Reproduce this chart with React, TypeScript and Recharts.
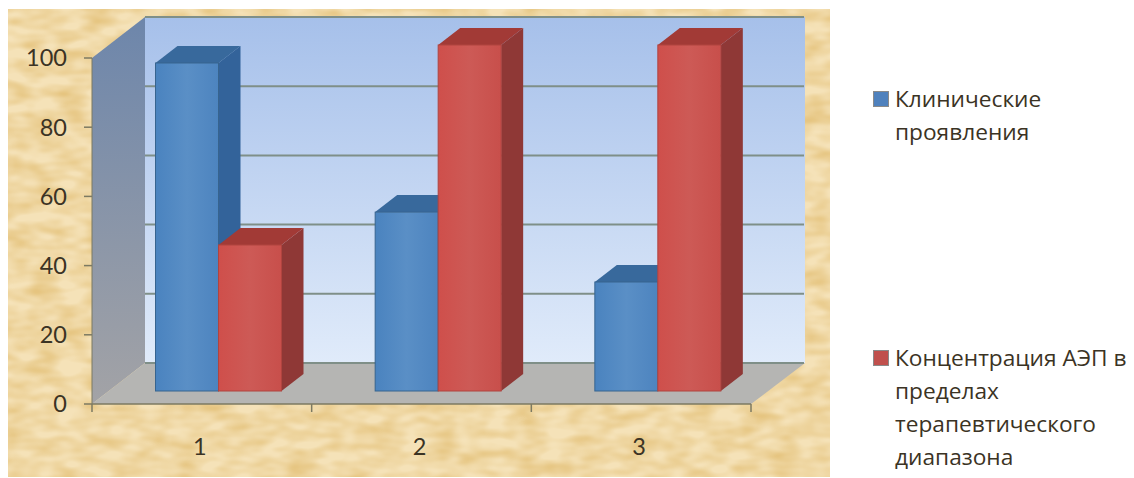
import { Bar, BarChart, CartesianGrid, Legend, XAxis, YAxis } from "recharts";

const categories = ["1", "2", "3"];
const clinical = [94.8, 51.7, 31.5];
const concentration = [42.2, 100, 100];
const yTicks = [0, 20, 40, 60, 80, 100];
const seriesNames = [
  "Клинические проявления",
  "Концентрация АЭП в пределах терапевтического диапазона",
];

const chartData = categories.map((name, i) => ({
  name,
  clinical: clinical[i],
  concentration: concentration[i],
}));

const FONT = "Lato, 'Open Sans', sans-serif";
const TEXT = "#3b3324";
const AXIS = "#7c7a62";
const BAND = 219.67;

const blue = { front: "url(#blueFront)", side: "#33639a", top: "#38699c", edge: "#37648f" };
const red = { front: "url(#redFront)", side: "#8f3836", top: "#a23a36", edge: "#b0443f" };

// bars stand a bit inside the floor, the depth is faked with two polygons
function box(colors: typeof blue) {
  return (props: any) => {
    const x = props.x + 16.5;
    const y = props.y - 13;
    const w = props.width;
    const h = props.height;
    const dx = 22;
    const dy = -17;
    return (
      <g>
        <polygon
          points={`${x + w},${y} ${x + w + dx},${y + dy} ${x + w + dx},${y + h + dy} ${x + w},${y + h}`}
          fill={colors.side}
        />
        <polygon
          points={`${x},${y} ${x + dx},${y + dy} ${x + w + dx},${y + dy} ${x + w},${y}`}
          fill={colors.top}
        />
        <rect x={x} y={y} width={w} height={h} fill={colors.front} stroke={colors.edge} strokeWidth={1} />
      </g>
    );
  };
}

function gridLine(props: any) {
  return (
    <line
      key={props.key ?? props.y1}
      x1={props.x1 + 53}
      x2={props.x2 + 53}
      y1={props.y1 - 41}
      y2={props.y2 - 41}
      stroke="#7f8f88"
      strokeWidth={2}
    />
  );
}

function categoryTick(props: any) {
  const { x, y, payload, index } = props;
  const left = x - BAND / 2;
  return (
    <g>
      <line x1={left} x2={left} y1={y} y2={y + 8} stroke={AXIS} strokeWidth={1.5} />
      {index === categories.length - 1 && (
        <line x1={left + BAND} x2={left + BAND} y1={y} y2={y + 8} stroke={AXIS} strokeWidth={1.5} />
      )}
      <text x={x - 2} y={y + 51} textAnchor="middle" fontSize={23.5} fontFamily={FONT} fill={TEXT}>
        {payload.value}
      </text>
    </g>
  );
}

function legendContent(props: any) {
  const tops = [82, 341];
  return (
    <div>
      {props.payload.map((item: any, i: number) => (
        <div
          key={item.value}
          style={{
            position: "absolute",
            top: tops[i],
            left: 0,
            width: 262,
            paddingLeft: 22,
            fontFamily: "'Open Sans', sans-serif",
            fontSize: 22.7,
            lineHeight: "33px",
            color: TEXT,
            boxSizing: "border-box",
          }}
        >
          <span
            style={{
              position: "absolute",
              left: 0,
              top: 9,
              width: 14,
              height: 14,
              background: item.color,
              border: "1px solid #8a8a8a",
            }}
          />
          {item.value}
        </div>
      ))}
    </div>
  );
}

export default function App() {
  return (
    <div style={{ position: "absolute", left: 0, top: 0, width: 1134, height: 478, background: "#fff" }}>
      <svg width={1134} height={478} style={{ position: "absolute", left: 0, top: 0 }}>
        <defs>
          <filter id="paper" x="0" y="0" width="100%" height="100%" colorInterpolationFilters="sRGB">
            <feTurbulence type="fractalNoise" baseFrequency="0.035 0.08" numOctaves={2} seed={4} />
            <feColorMatrix
              values="0 0 0 0 0.90
                      0 0 0 0 0.77
                      0 0 0 0 0.50
                      1.8 0 0 0 -0.55"
            />
          </filter>
          <linearGradient id="wall" x1="0" y1="0" x2="0" y2="1">
            <stop offset="0" stopColor="#a6c0ea" />
            <stop offset="1" stopColor="#e0ebfa" />
          </linearGradient>
          <linearGradient id="sideWall" x1="0" y1="0" x2="0" y2="1">
            <stop offset="0" stopColor="#6d86ab" />
            <stop offset="1" stopColor="#a3a3a6" />
          </linearGradient>
        </defs>
        <rect x={8} y={9} width={822} height={468} fill="#f5e2b8" />
        <rect x={8} y={9} width={822} height={468} filter="url(#paper)" />
        <polygon points="145,17 805,17 805,363 145,363" fill="url(#wall)" />
        <polygon points="92,58 145,17 145,363 92,404" fill="url(#sideWall)" />
        <polygon points="92,404 145,363 805,363 751,404" fill="#b5b5b3" />
      </svg>
      <BarChart
        width={1134}
        height={478}
        data={chartData}
        barGap={0}
        barSize={63}
        margin={{ top: 58, right: 383, bottom: 0, left: 0 }}
        style={{ position: "absolute", left: 0, top: 0 }}
      >
        <defs>
          <linearGradient id="blueFront" x1="0" y1="0" x2="1" y2="0">
            <stop offset="0" stopColor="#4a83bf" />
            <stop offset="0.5" stopColor="#5a8fc6" />
            <stop offset="1" stopColor="#4d84bf" />
          </linearGradient>
          <linearGradient id="redFront" x1="0" y1="0" x2="1" y2="0">
            <stop offset="0" stopColor="#cf4f4b" />
            <stop offset="0.5" stopColor="#cd5a56" />
            <stop offset="1" stopColor="#c84f4b" />
          </linearGradient>
        </defs>
        <CartesianGrid horizontal={gridLine} vertical={false} />
        <XAxis
          dataKey="name"
          height={74}
          tickLine={false}
          tickSize={0}
          tickMargin={0}
          axisLine={{ stroke: AXIS, strokeWidth: 1.5 }}
          tick={categoryTick}
          interval={0}
        />
        <YAxis
          width={92}
          domain={[0, 100]}
          ticks={yTicks}
          interval={0}
          tickSize={8}
          tickMargin={17}
          tickLine={{ stroke: AXIS, strokeWidth: 1.5 }}
          axisLine={{ stroke: AXIS, strokeWidth: 1 }}
          tick={{ fontSize: 23.5, fontFamily: FONT, fill: TEXT }}
        />
        <Legend
          layout="horizontal"
          align="center"
          verticalAlign="middle"
          content={legendContent}
          wrapperStyle={{ position: "absolute", left: 873, top: 0, width: 262, height: 0 }}
        />
        <Bar dataKey="clinical" name={seriesNames[0]} fill="#4f81bd" shape={box(blue)} isAnimationActive={false} />
        <Bar dataKey="concentration" name={seriesNames[1]} fill="#c0504d" shape={box(red)} isAnimationActive={false} />
      </BarChart>
    </div>
  );
}
